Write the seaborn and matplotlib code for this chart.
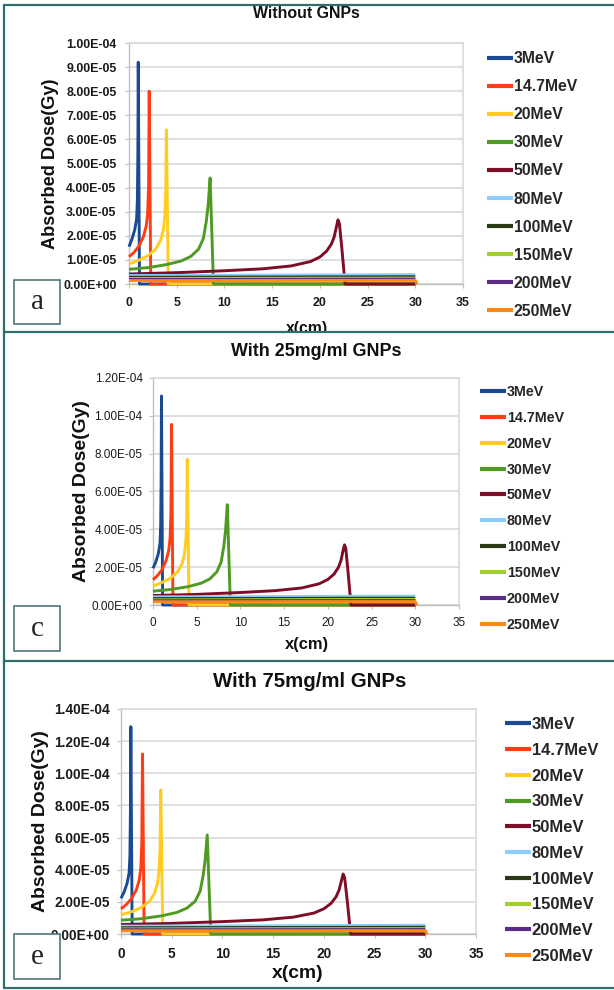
import matplotlib
matplotlib.use("Agg")
import matplotlib.pyplot as plt
from matplotlib import font_manager
from matplotlib.lines import Line2D
from matplotlib.patches import Rectangle
from matplotlib.ticker import FuncFormatter, MultipleLocator
import pandas as pd
import seaborn as sns

# ---------------------------------------------------------------- data
energies = ["3MeV", "14.7MeV", "20MeV", "30MeV", "50MeV",
            "80MeV", "100MeV", "150MeV", "200MeV", "250MeV"]
colors = ["#1a4a94", "#ff3d14", "#ffcc1f", "#4f9a23", "#7e0d27",
          "#8ccfff", "#2b3a16", "#a2d02a", "#5a2c86", "#ff8a12"]

# depth grid (cm) of each energy curve
depth_3mev = [0, 0.3, 0.6, 0.8, 0.88, 0.93, 0.97, 1.1, 30]
depth_14mev = [0, 0.5, 1.0, 1.5, 1.8, 1.95, 2.05, 2.12, 2.28, 30]
depth_20mev = [0, 1, 2, 2.8, 3.3, 3.6, 3.75, 3.85, 3.92, 4.12, 30]
depth_30mev = [0, 2, 4, 5.5, 6.5, 7.3, 7.8, 8.1, 8.3, 8.5, 8.85, 30]
depth_50mev = [0, 5, 10, 14, 17, 19, 20, 20.7, 21.2, 21.5, 21.75, 21.9,
               22.05, 22.3, 22.55, 22.65, 30]
depth_flat = [0, 10, 20, 30]
depth_250mev = [0, 10, 20, 30, 30.2]

# absorbed dose (Gy), without GNPs
dose_none_3mev = [1.55e-5, 1.85e-5, 2.25e-5, 2.7e-5, 3.5e-5, 5.5e-5, 9.2e-5, 0, 0]
dose_none_14mev = [1.13e-5, 1.3e-5, 1.55e-5, 1.95e-5, 2.4e-5, 2.9e-5, 4.0e-5, 8.0e-5, 0, 0]
dose_none_20mev = [8.3e-6, 9.8e-6, 1.18e-5, 1.45e-5, 1.8e-5, 2.25e-5, 2.8e-5, 3.8e-5, 6.4e-5, 0, 0]
dose_none_30mev = [6.1e-6, 6.8e-6, 8.1e-6, 9.6e-6, 1.15e-5, 1.45e-5, 1.9e-5, 2.6e-5, 3.3e-5, 4.4e-5, 0, 0]
dose_none_50mev = [4.15e-6, 4.7e-6, 5.5e-6, 6.3e-6, 7.5e-6, 9.3e-6, 1.12e-5, 1.36e-5, 1.65e-5,
                   1.95e-5, 2.4e-5, 2.66e-5, 2.5e-5, 1.5e-5, 4.0e-6, 0, 0]
dose_none_80mev = [3.5e-6, 3.6e-6, 3.75e-6, 3.9e-6]
dose_none_100mev = [2.8e-6, 2.85e-6, 2.95e-6, 3.0e-6]
dose_none_150mev = [2.3e-6, 2.35e-6, 2.4e-6, 2.45e-6]
dose_none_200mev = [1.9e-6, 1.9e-6, 1.95e-6, 2.0e-6]
dose_none_250mev = [1.4e-6, 1.45e-6, 1.5e-6, 1.5e-6, 0]

# absorbed dose (Gy), with 25 mg/ml GNPs
dose_25_3mev = [1.94e-5, 2.25e-5, 2.7e-5, 3.25e-5, 4.2e-5, 6.6e-5, 1.105e-4, 0, 0]
dose_25_14mev = [1.33e-5, 1.55e-5, 1.85e-5, 2.35e-5, 2.9e-5, 3.5e-5, 4.8e-5, 9.55e-5, 0, 0]
dose_25_20mev = [1.0e-5, 1.18e-5, 1.42e-5, 1.75e-5, 2.15e-5, 2.7e-5, 3.35e-5, 4.55e-5, 7.7e-5, 0, 0]
dose_25_30mev = [7.3e-6, 8.2e-6, 9.7e-6, 1.15e-5, 1.38e-5, 1.75e-5, 2.28e-5, 3.1e-5, 3.95e-5, 5.3e-5, 0, 0]
dose_25_50mev = [5.0e-6, 5.6e-6, 6.6e-6, 7.6e-6, 9.0e-6, 1.12e-5, 1.35e-5, 1.63e-5, 1.98e-5,
                 2.35e-5, 2.9e-5, 3.18e-5, 3.0e-5, 1.8e-5, 4.8e-6, 0, 0]
dose_25_80mev = [4.3e-6, 4.4e-6, 4.55e-6, 4.7e-6]
dose_25_100mev = [3.4e-6, 3.45e-6, 3.55e-6, 3.6e-6]
dose_25_150mev = [2.75e-6, 2.8e-6, 2.9e-6, 2.95e-6]
dose_25_200mev = [2.25e-6, 2.3e-6, 2.35e-6, 2.4e-6]
dose_25_250mev = [1.7e-6, 1.75e-6, 1.8e-6, 1.8e-6, 0]

# absorbed dose (Gy), with 75 mg/ml GNPs
dose_75_3mev = [2.22e-5, 2.6e-5, 3.15e-5, 3.8e-5, 4.9e-5, 7.7e-5, 1.29e-4, 0, 0]
dose_75_14mev = [1.57e-5, 1.82e-5, 2.17e-5, 2.73e-5, 3.36e-5, 4.06e-5, 5.6e-5, 1.12e-4, 0, 0]
dose_75_20mev = [1.2e-5, 1.37e-5, 1.65e-5, 2.03e-5, 2.52e-5, 3.15e-5, 3.92e-5, 5.3e-5, 8.96e-5, 0, 0]
dose_75_30mev = [8.6e-6, 9.5e-6, 1.13e-5, 1.34e-5, 1.61e-5, 2.03e-5, 2.66e-5, 3.64e-5, 4.62e-5, 6.16e-5, 0, 0]
dose_75_50mev = [5.9e-6, 6.6e-6, 7.7e-6, 8.8e-6, 1.05e-5, 1.3e-5, 1.57e-5, 1.9e-5, 2.31e-5,
                 2.73e-5, 3.36e-5, 3.73e-5, 3.5e-5, 2.1e-5, 5.6e-6, 0, 0]
dose_75_80mev = [4.9e-6, 5.05e-6, 5.25e-6, 5.45e-6]
dose_75_100mev = [3.9e-6, 4.0e-6, 4.1e-6, 4.2e-6]
dose_75_150mev = [3.2e-6, 3.3e-6, 3.35e-6, 3.4e-6]
dose_75_200mev = [2.65e-6, 2.65e-6, 2.75e-6, 2.8e-6]
dose_75_250mev = [2.0e-6, 2.05e-6, 2.1e-6, 2.1e-6, 0]

panel_titles = ["Without GNPs", "With 25mg/ml GNPs", "With 75mg/ml GNPs"]
panel_letters = ["a", "c", "e"]
x_ticks = [0, 5, 10, 15, 20, 25, 30, 35]

depths = [depth_3mev, depth_14mev, depth_20mev, depth_30mev, depth_50mev,
          depth_flat, depth_flat, depth_flat, depth_flat, depth_250mev]
doses_by_panel = [
    [dose_none_3mev, dose_none_14mev, dose_none_20mev, dose_none_30mev, dose_none_50mev,
     dose_none_80mev, dose_none_100mev, dose_none_150mev, dose_none_200mev, dose_none_250mev],
    [dose_25_3mev, dose_25_14mev, dose_25_20mev, dose_25_30mev, dose_25_50mev,
     dose_25_80mev, dose_25_100mev, dose_25_150mev, dose_25_200mev, dose_25_250mev],
    [dose_75_3mev, dose_75_14mev, dose_75_20mev, dose_75_30mev, dose_75_50mev,
     dose_75_80mev, dose_75_100mev, dose_75_150mev, dose_75_200mev, dose_75_250mev],
]

# ---------------------------------------------------------------- fonts
sns.set_style("white")
names = {f.name for f in font_manager.fontManager.ttflist}
NARROW = "Liberation Sans Narrow" in names
SANS = ["Liberation Sans Narrow", "Liberation Sans", "DejaVu Sans"] if NARROW else ["Liberation Sans", "DejaVu Sans"]
K = 1.0 if NARROW else 0.86
plt.rcParams["font.family"] = SANS

# ---------------------------------------------------------------- layout (pixels)
W, H = 614, 990
fig = plt.figure(figsize=(W / 100, H / 100), dpi=100)


def fx(px):
    return px / W


def fy(py):
    return 1 - py / H


layouts = [
    dict(box=(129, 463, 43, 284), ymax=1.0e-4, ystep=1.0e-5, tick_fs=10.4, tick_w="bold",
         leg_fs=13.2, leg_x=487, leg_y=57, leg_pitch=27.7, ylab_fs=15.2, ylab_x=51,
         title_fs=13.3, title_xy=(306, 18), xlab_fs=13.2, xlab_xy=(307, 328),
         ypad=6.0, xpad=6.5, letter_box=(14, 60, 280, 324)),
    dict(box=(153, 459, 378, 605), ymax=1.2e-4, ystep=2.0e-5, tick_fs=9.9, tick_w="normal",
         leg_fs=11.9, leg_x=480, leg_y=390, leg_pitch=25.1, ylab_fs=16.2, ylab_x=82,
         title_fs=15.0, title_xy=(316, 356), xlab_fs=13.8, xlab_xy=(307, 645),
         ypad=4.5, xpad=6.0, letter_box=(14, 60, 606, 651)),
    dict(box=(121, 476, 709, 934), ymax=1.4e-4, ystep=2.0e-5, tick_fs=11.5, tick_w="bold",
         leg_fs=13.8, leg_x=505, leg_y=723, leg_pitch=26.1, ylab_fs=16.2, ylab_x=41,
         title_fs=17.1, title_xy=(310, 687), xlab_fs=16.1, xlab_xy=(298, 973),
         ypad=5.0, xpad=6.0, letter_box=(14, 60, 934, 979)),
]

sci = FuncFormatter(lambda v, p: f"{v:.2E}")

for doses, lay, title, letter in zip(doses_by_panel, layouts, panel_titles, panel_letters):
    left, right, top, bottom = lay["box"]
    ax = fig.add_axes([fx(left), fy(bottom), (right - left) / W, (bottom - top) / H])

    rows = []
    for name, xs, ys in zip(energies, depths, doses):
        for x, y in zip(xs, ys):
            rows.append({"depth": x, "dose": y, "energy": name})
    df = pd.DataFrame(rows)

    sns.lineplot(data=df, x="depth", y="dose", hue="energy", hue_order=energies,
                 palette=colors, sort=False, estimator=None, legend=False,
                 linewidth=2.1, ax=ax)
    for ln in ax.lines:
        ln.set_clip_on(False)
        ln.set_zorder(3)
        ln.set_solid_capstyle("butt")

    ax.set_xlim(0, 35)
    ax.set_ylim(0, lay["ymax"])
    ax.set_xticks(x_ticks)
    ax.yaxis.set_major_locator(MultipleLocator(lay["ystep"]))
    ax.yaxis.set_major_formatter(sci)
    ax.grid(axis="y", color="#d9d9d9", linewidth=1.2)
    ax.grid(axis="x", visible=False)
    ax.set_axisbelow(True)
    for side in ["left", "bottom"]:
        ax.spines[side].set_color("#bfbfbf")
        ax.spines[side].set_linewidth(1.0)
    for side in ["right", "top"]:
        ax.spines[side].set_color("#d9d9d9")
        ax.spines[side].set_linewidth(1.2)

    tfs = lay["tick_fs"] * K
    ax.tick_params(axis="y", length=3, width=0.8, color="#bfbfbf", pad=lay["ypad"],
                   labelsize=tfs, labelcolor="#1a1a1a", left=True)
    ax.tick_params(axis="x", length=3, width=0.8, color="#bfbfbf", pad=lay["xpad"],
                   labelsize=tfs, labelcolor="#1a1a1a", bottom=True)
    for lab in ax.get_xticklabels() + ax.get_yticklabels():
        lab.set_fontweight(lay["tick_w"])

    # axis titles
    ax.set_ylabel("Absorbed Dose(Gy)", fontsize=lay["ylab_fs"] * K, fontweight="bold",
                  color="#111111")
    ax.yaxis.set_label_coords((lay["ylab_x"] - left) / (right - left), 0.5)
    ax.yaxis.label.set_verticalalignment("center")
    ax.set_xlabel("x(cm)", fontsize=lay["xlab_fs"] * K, fontweight="bold", color="#111111")
    xl_x, xl_y = lay["xlab_xy"]
    ax.xaxis.set_label_coords((xl_x - left) / (right - left), (bottom - xl_y) / (bottom - top))
    ax.xaxis.label.set_verticalalignment("center")

    # legend to the right of the plot area
    fs_px = lay["leg_fs"] * K * 100 / 72
    spacing = (lay["leg_pitch"] - 0.93 * fs_px) / fs_px
    ax.legend(handles=list(ax.lines), labels=energies, loc="upper left",
              bbox_to_anchor=(fx(lay["leg_x"]), fy(lay["leg_y"] - 0.36 * fs_px)),
              bbox_transform=fig.transFigure, frameon=False, borderpad=0,
              borderaxespad=0, handlelength=26 / fs_px, handletextpad=0.05,
              labelspacing=spacing, prop=dict(family=SANS, weight="bold", size=lay["leg_fs"] * K))
    for h in ax.get_legend().legend_handles:
        h.set_linewidth(3.0)

    # chart title
    tx, ty = lay["title_xy"]
    fig.text(fx(tx), fy(ty), title, ha="center", va="baseline", fontsize=lay["title_fs"] * K,
             fontweight="bold", color="#111111")

    # panel letter in its framed box
    bx0, bx1, by0, by1 = lay["letter_box"]
    fig.add_artist(Rectangle((fx(bx0), fy(by1)), (bx1 - bx0) / W, (by1 - by0) / H,
                             transform=fig.transFigure, facecolor="white",
                             edgecolor="#4d7878", linewidth=1.2, zorder=4))
    fig.text(fx((bx0 + bx1) / 2), fy((by0 + by1) / 2 + 7), letter, ha="center", va="baseline",
             fontsize=21, family=["Liberation Serif", "DejaVu Serif"], color="#222222", zorder=5)

# panel frames
frame = "#2f6e6d"
fig.add_artist(Rectangle((0, fy(5)), 1, 5 / H, transform=fig.transFigure,
                         facecolor="white", edgecolor="none", zorder=9))
fig.add_artist(Rectangle((0, fy(340)), 1, 8 / H, transform=fig.transFigure,
                         facecolor="white", edgecolor="none", zorder=9))
for yy in [5, 332, 661, 988]:
    fig.add_artist(Line2D([fx(4), 1], [fy(yy), fy(yy)], transform=fig.transFigure,
                          color=frame, linewidth=1.6, zorder=10))
fig.add_artist(Line2D([fx(4), fx(4)], [fy(5), fy(988)], transform=fig.transFigure,
                      color=frame, linewidth=1.6, zorder=10))

fig.savefig("out.png", dpi=100, facecolor="white")
